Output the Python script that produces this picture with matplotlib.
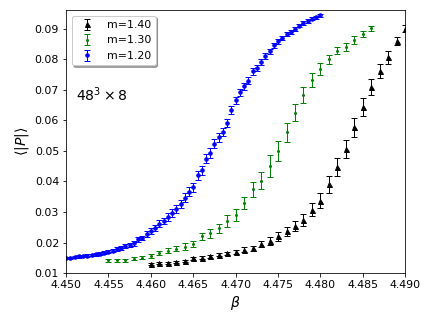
import numpy as np
import matplotlib
matplotlib.use('Agg')
import matplotlib.pyplot as plt

# m = 1.40
beta_140 = np.round(np.arange(4.460, 4.4905, 0.001), 3)
p_140 = [0.0131, 0.0133, 0.0134, 0.0136, 0.0139, 0.0148, 0.0151, 0.0155, 0.0160,
         0.0165, 0.0170, 0.0177, 0.0181, 0.0195, 0.0205, 0.0221, 0.0237, 0.0254,
         0.0275, 0.0308, 0.0337, 0.0391, 0.0448, 0.0506, 0.0577, 0.0643, 0.0709,
         0.0762, 0.0806, 0.0859, 0.0900]
err_140 = [0.0003, 0.0003, 0.0003, 0.0003, 0.0004, 0.0004, 0.0004, 0.0004, 0.0005,
           0.0005, 0.0006, 0.0007, 0.0008, 0.0010, 0.0014, 0.0015, 0.0015, 0.0016,
           0.0020, 0.0022, 0.0025, 0.0028, 0.0030, 0.0030, 0.0032, 0.0030, 0.0027,
           0.0023, 0.0022, 0.0014, 0.0011]

# m = 1.30
beta_130 = np.round(np.arange(4.455, 4.4865, 0.001), 3)
p_130 = [0.0142, 0.0142, 0.0142, 0.0147, 0.0151, 0.0157, 0.0166, 0.0173, 0.0180,
         0.0187, 0.0196, 0.0220, 0.0230, 0.0247, 0.0271, 0.0291, 0.0330, 0.0374,
         0.0403, 0.0451, 0.0500, 0.0561, 0.0625, 0.0683, 0.0732, 0.0768, 0.0800,
         0.0828, 0.0839, 0.0863, 0.0883, 0.0901]
err_130 = [0.0004, 0.0004, 0.0004, 0.0005, 0.0005, 0.0006, 0.0007, 0.0008, 0.0009,
           0.0010, 0.0010, 0.0011, 0.0015, 0.0015, 0.0019, 0.0019, 0.0019, 0.0025,
           0.0029, 0.0036, 0.0032, 0.0031, 0.0028, 0.0026, 0.0022, 0.0019, 0.0014,
           0.0011, 0.0013, 0.0012, 0.0009, 0.0008]

# m = 1.20
beta_120 = np.round(np.arange(4.450, 4.48025, 0.0005), 4)
p_120 = [0.0149, 0.0150, 0.0152, 0.0155, 0.0156, 0.0157, 0.0159, 0.0161, 0.0164,
         0.0167, 0.0170, 0.0174, 0.0178, 0.0182, 0.0188, 0.0193, 0.0197, 0.0211,
         0.0215, 0.0228, 0.0238, 0.0248, 0.0262, 0.0271, 0.0284, 0.0297, 0.0311,
         0.0325, 0.0347, 0.0366, 0.0381, 0.0420, 0.0437, 0.0475, 0.0493, 0.0524,
         0.0544, 0.0562, 0.0592, 0.0635, 0.0665, 0.0692, 0.0711, 0.0730, 0.0760,
         0.0771, 0.0791, 0.0810, 0.0826, 0.0846, 0.0859, 0.0870, 0.0883, 0.0889,
         0.0900, 0.0910, 0.0919, 0.0926, 0.0933, 0.0938, 0.0944]
err_120 = [0.0004, 0.0004, 0.0004, 0.0004, 0.0004, 0.0004, 0.0004, 0.0005, 0.0005,
           0.0005, 0.0005, 0.0005, 0.0006, 0.0006, 0.0006, 0.0006, 0.0007, 0.0008,
           0.0008, 0.0009, 0.0010, 0.0010, 0.0011, 0.0011, 0.0012, 0.0012, 0.0013,
           0.0013, 0.0014, 0.0015, 0.0015, 0.0015, 0.0015, 0.0015, 0.0015, 0.0014,
           0.0014, 0.0013, 0.0013, 0.0013, 0.0012, 0.0012, 0.0011, 0.0011, 0.0010,
           0.0010, 0.0009, 0.0009, 0.0008, 0.0008, 0.0008, 0.0007, 0.0007, 0.0007,
           0.0006, 0.0006, 0.0006, 0.0006, 0.0005, 0.0005, 0.0005]

fig = plt.figure(figsize=(6, 4.5), dpi=72)
ax = fig.add_axes([0.153, 0.157, 0.785, 0.812])

ax.errorbar(beta_140, p_140, yerr=err_140, fmt='^', color='black', ms=5,
            capsize=3, elinewidth=1, label='m=1.40')
ax.errorbar(beta_130, p_130, yerr=err_130, fmt='.', color='green', ms=4,
            capsize=3, elinewidth=1, label='m=1.30')
ax.errorbar(beta_120, p_120, yerr=err_120, fmt='o', color='blue', ms=3.5,
            capsize=3, elinewidth=1, label='m=1.20')

ax.set_xlim(4.450, 4.490)
ax.set_ylim(0.010, 0.0961)
ax.set_xticks(np.arange(4.450, 4.4905, 0.005))
ax.set_yticks(np.arange(0.01, 0.0905, 0.01))
ax.xaxis.set_major_formatter(matplotlib.ticker.FormatStrFormatter('%.3f'))
ax.yaxis.set_major_formatter(matplotlib.ticker.FormatStrFormatter('%.2f'))
ax.tick_params(labelsize=11)

ax.set_xlabel(r'$\beta$', fontsize=14)
ax.set_ylabel(r'$\langle |P| \rangle$', fontsize=14)

ax.text(0.03, 0.655, r'$48^3 \times 8$', transform=ax.transAxes, fontsize=14)
ax.legend(loc='upper left', shadow=True, fontsize=11)

fig.savefig('out.png', dpi=72)
